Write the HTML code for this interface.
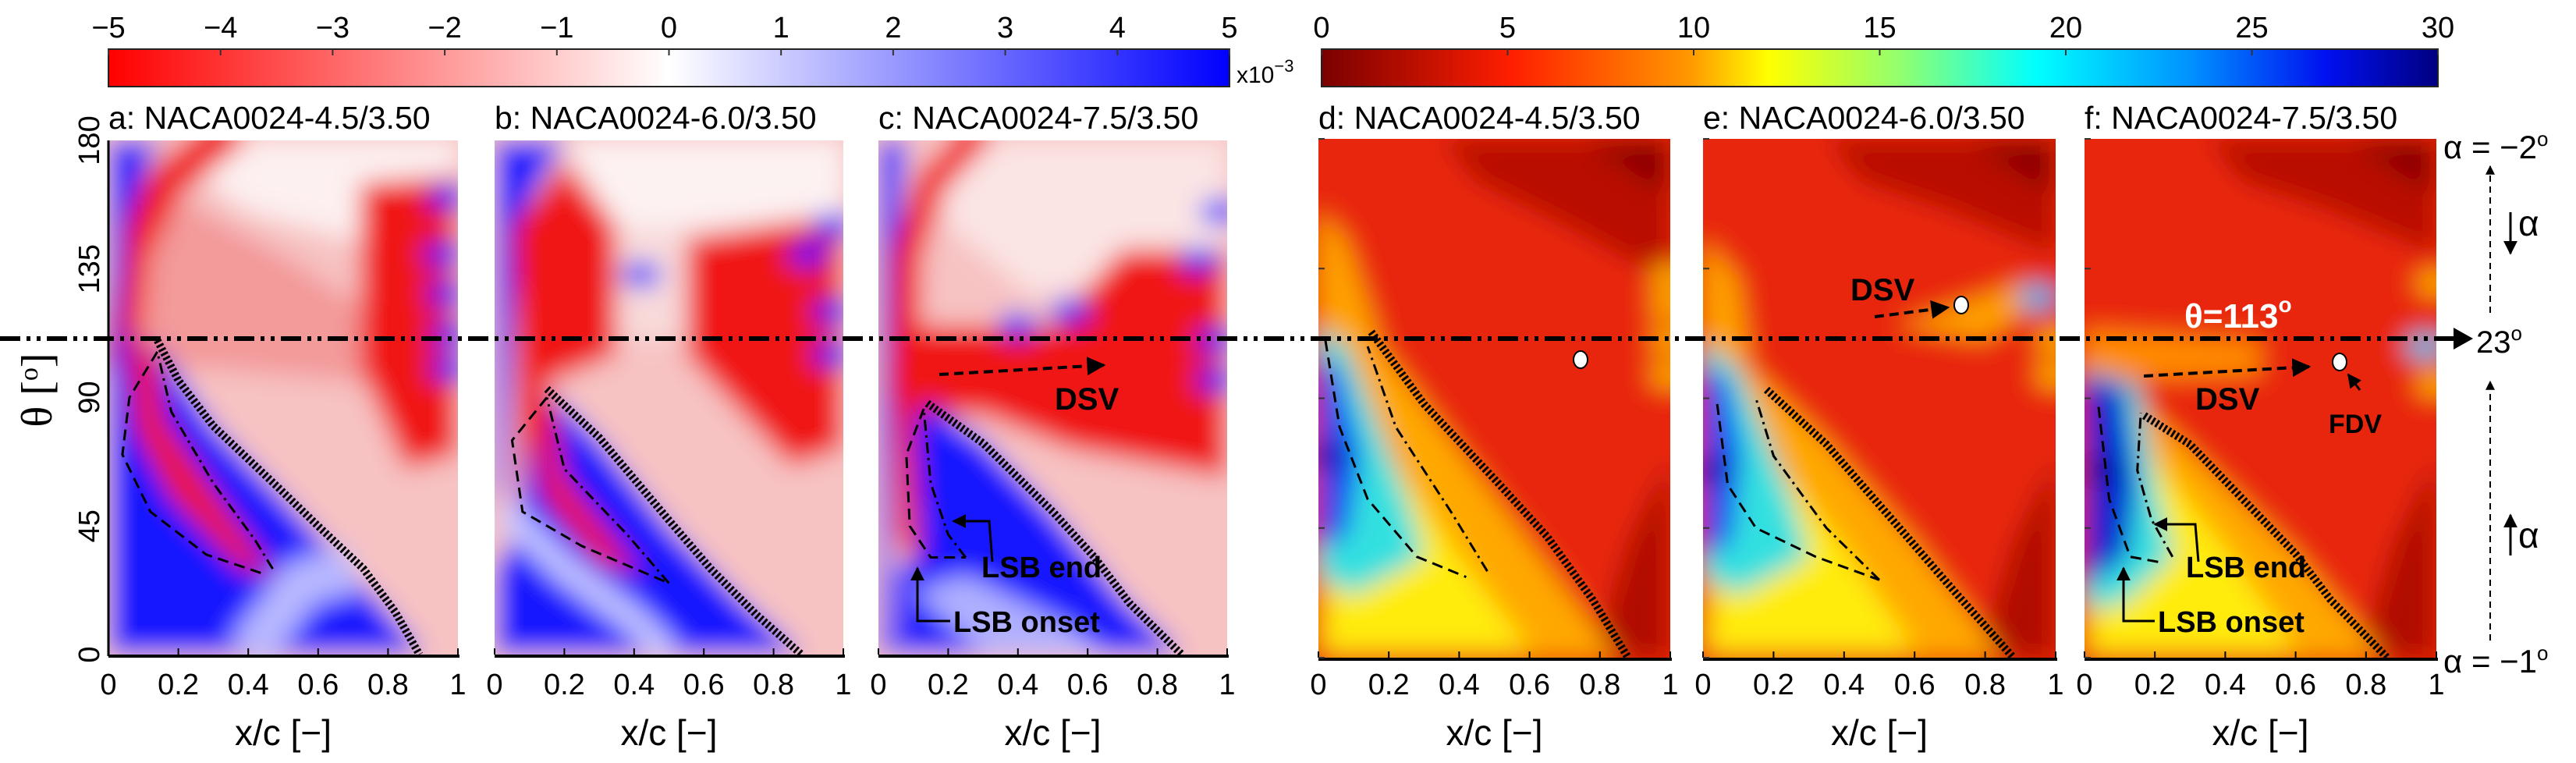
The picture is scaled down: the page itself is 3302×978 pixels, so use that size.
<!DOCTYPE html>
<html><head><meta charset="utf-8"><style>
body{margin:0;background:#fff;}
svg{display:block;font-family:"Liberation Sans",Arial,sans-serif;}
</style></head><body>
<svg id="fig" width="3302" height="978" viewBox="0 0 3302 978" xmlns="http://www.w3.org/2000/svg">
<defs>
<filter id="bl" x="-20%" y="-20%" width="140%" height="140%"><feGaussianBlur stdDeviation="16"/></filter>
<linearGradient id="gBR" x1="0" x2="1" y1="0" y2="0">
<stop offset="0" stop-color="#ff0000"/><stop offset="0.5" stop-color="#ffffff"/><stop offset="1" stop-color="#0000ff"/></linearGradient>
<linearGradient id="gJet" x1="0" x2="1" y1="0" y2="0">
<stop offset="0" stop-color="#7a0000"/><stop offset="0.17" stop-color="#ff1e00"/><stop offset="0.33" stop-color="#ff9800"/>
<stop offset="0.4" stop-color="#ffff00"/><stop offset="0.52" stop-color="#90ff70"/><stop offset="0.64" stop-color="#00ffff"/>
<stop offset="0.78" stop-color="#0090ff"/><stop offset="0.9" stop-color="#0010f0"/><stop offset="1" stop-color="#000080"/></linearGradient>
<marker id="ah" viewBox="0 0 10 10" refX="9" refY="5" markerWidth="6" markerHeight="6" orient="auto"><path d="M0,0L10,5L0,10z" fill="#000"/></marker>
</defs>
</svg>
<script>
const xTicks=[0,0.2,0.4,0.6,0.8,1];
const xTickLabels=["0","0.2","0.4","0.6","0.8","1"];
const yTicks=[0,45,90,135,180];
const cb1Ticks=[-5,-4,-3,-2,-1,0,1,2,3,4,5];
const cb2Ticks=[0,5,10,15,20,25,30];
const panelTitles=["a: NACA0024-4.5/3.50","b: NACA0024-6.0/3.50","c: NACA0024-7.5/3.50","d: NACA0024-4.5/3.50","e: NACA0024-6.0/3.50","f: NACA0024-7.5/3.50"];
const dottedA=[[0.14,110],[0.2,96],[0.3,80],[0.49,58],[0.6,45],[0.73,30],[0.82,15],[0.89,0]];
const dottedB=[[0.15,93],[0.3,76],[0.5,47],[0.62,30],[0.75,14],[0.88,0]];
const dottedC=[[0.14,88],[0.3,74],[0.5,50],[0.62,34],[0.72,18],[0.87,0]];
const dottedD=[[0.15,113],[0.3,88],[0.5,62],[0.65,42],[0.78,20],[0.88,0]];
const dottedE=[[0.18,93],[0.35,74],[0.55,46],[0.72,22],[0.88,0]];
const dottedF=[[0.17,84],[0.3,74],[0.45,55],[0.6,36],[0.7,20],[0.86,0]];
const dashA=[[0.14,106],[0.06,90],[0.04,70],[0.12,50],[0.28,35],[0.45,28]];
const dashdotA=[[0.47,30],[0.42,40],[0.3,60],[0.18,85],[0.14,106]];
const dashB=[[0.15,90],[0.05,75],[0.08,50],[0.25,38],[0.5,25]];
const dashdotB=[[0.5,25],[0.38,42],[0.2,65],[0.15,90]];
const dashC=[[0.13,86],[0.08,70],[0.09,45],[0.15,34],[0.25,34]];
const dashdotC=[[0.25,34],[0.2,42],[0.15,60],[0.13,86]];
const dashD=[[0.02,110],[0.06,80],[0.14,55],[0.28,35],[0.42,28]];
const dashdotD=[[0.48,30],[0.38,50],[0.22,80],[0.14,108]];
const dashE=[[0.04,88],[0.07,60],[0.15,45],[0.32,35],[0.5,27]];
const dashdotE=[[0.5,27],[0.35,45],[0.2,70],[0.15,90]];
const dashF=[[0.04,87],[0.07,55],[0.13,35],[0.22,33]];
const dashdotF=[[0.25,35],[0.19,48],[0.15,65],[0.16,85]];

const svg=document.getElementById('fig');
const NS="http://www.w3.org/2000/svg";
function el(tag,attrs,parent){const e=document.createElementNS(NS,tag);for(const k in attrs)e.setAttribute(k,attrs[k]);(parent||svg).appendChild(e);return e;}
const panels=[
 {x0:139,x1:587,y0:180,y1:839},{x0:634,x1:1081,y0:180,y1:839},{x0:1126,x1:1573,y0:180,y1:839},
 {x0:1690,x1:2141,y0:178,y1:843},{x0:2183,x1:2635,y0:178,y1:843},{x0:2672,x1:3123,y0:178,y1:843}];
function X(p,v){return p.x0+v*(p.x1-p.x0);}
function Y(p,t){return p.y1-t/180*(p.y1-p.y0);}
function pts(p,a){return a.map(q=>X(p,q[0]).toFixed(1)+","+Y(p,q[1]).toFixed(1)).join(" ");}

function colorbar(x0,x1,vals,grad,name,lo,hi){
 const r=el('rect',{x:x0,y:63,width:x1-x0,height:48,fill:'url(#'+grad+')',stroke:'#222','stroke-width':2});
 
 
 vals.forEach(v=>{const xx=x0+(v-lo)/(hi-lo)*(x1-x0);
  el('line',{x1:xx,x2:xx,y1:63,y2:71,stroke:'#333','stroke-width':2});
  const t=el('text',{x:xx,y:48,'font-size':38,'text-anchor':'middle',fill:'#000'});t.textContent=(v<0?'\u2212'+(-v):String(v));
  
  
 });
}
colorbar(139,1576,cb1Ticks,'gBR','colorbar-skin-friction',-5,5);
colorbar(1694,3125,cb2Ticks,'gJet','colorbar-magnitude',0,30);
{const t=el('text',{x:1585,y:106,'font-size':30});t.innerHTML='x10<tspan dy="-14" font-size="22">\u22123</tspan>';
}

const R='#f01818', B='#1212ff';
const shapes=[
 [ // a
  ['rect','#f7c2c2'],
  ['poly',[[0.2,180],[1,180],[1,150],[0.7,145],[0.4,155],[0.25,168]],'#fdf0f0'],
  ['poly',[[0.04,100],[0.04,150],[0.2,160],[0.5,140],[0.75,120],[0.75,95],[0.3,100]],'#f39a9a'],
  ['line',[[0.03,100],[0.06,140],[0.16,165],[0.36,185]],R,50],
  ['poly',[[0.0,180],[0.14,180],[0.05,150],[0.03,110],[0,100]],B],
  ['poly',[[0.72,165],[1,168],[1,70],[0.85,65],[0.72,100]],R],
  ['ell',[[0.97,160],[0.96,140],[0.97,126],[0.98,112],[0.98,100]],B],
  ['poly',[[0,0],[0.9,0],[0.8,15],[0.5,55],[0.3,80],[0.14,108],[0.05,112],[0,100]],B],
  ['line',[[0.4,0],[0.55,25],[0.7,30]],'#b8b8ff',60],
  ['poly',[[0.05,110],[0.13,108],[0.16,82],[0.3,57],[0.47,28],[0.38,30],[0.18,55],[0.08,78]],R]
 ],
 [ // b
  ['rect','#f7c2c2'],
  ['poly',[[0.2,180],[1,180],[1,155],[0.6,150],[0.35,150]],'#fdf2f2'],
  ['poly',[[0.35,150],[0.55,150],[0.55,110],[0.35,110]],'#f8dada'],
  ['poly',[[0,180],[0.2,180],[0.06,150],[0.03,60],[0,50]],B],
  ['poly',[[0.05,150],[0.2,172],[0.35,150],[0.35,105],[0.15,95],[0.12,80],[0.22,40],[0.07,55]],R],
  ['poly',[[0.55,145],[0.9,152],[1,145],[1,72],[0.85,66],[0.55,105]],R],
  ['ell',[[0.9,140],[0.97,150],[0.97,120],[0.97,105],[0.42,133]],B],
  ['poly',[[0,0],[0.88,0],[0.7,20],[0.5,45],[0.3,75],[0.15,93],[0.12,80],[0.05,40],[0,30]],B],
  ['line',[[0.03,50],[0.2,30],[0.4,12],[0.5,0]],'#c8c8ff',34],
  ['poly',[[0.11,88],[0.16,92],[0.2,62],[0.42,28],[0.3,32],[0.14,55]],R]
 ],
 [ // c
  ['rect','#f7c2c2'],
  ['poly',[[0.15,180],[1,180],[1,140],[0.45,125],[0.2,150]],'#fbe4e4'],
  ['poly',[[0,180],[0.08,180],[0.04,120],[0.03,0],[0,0]],B],
  ['line',[[0.07,90],[0.08,140],[0.15,165],[0.3,185]],R,40],
  ['poly',[[0.05,115],[0.5,115],[0.7,142],[1,142],[1,62],[0.55,72],[0.3,84],[0.05,84]],R],
  ['poly',[[0.03,120],[0.1,118],[0.12,80],[0.11,45],[0.24,32],[0.15,26],[0.05,40],[0.04,80]],R],
  ['ell',[[0.97,110],[0.92,138],[0.98,155],[0.97,96],[0.4,115],[0.55,120]],B],
  ['poly',[[0.04,0],[0.87,0],[0.7,20],[0.5,50],[0.3,75],[0.14,88],[0.1,80],[0.12,35],[0.05,30]],B],
  ['poly',[[0.1,22],[0.25,28],[0.55,10],[0.65,0],[0.3,0]],'#b0b0ff']
 ],
 [ // d
  ['rect','#e82808'],
  ['poly',[[0.35,180],[1,180],[1,130],[0.7,150],[0.45,165]],'#b80c00'],
  ['poly',[[0.75,180],[1,180],[1,160]],'#8a0000'],
  ['poly',[[0.78,0],[1,0],[1,70],[0.88,40]],'#b00800'],
  ['poly',[[0,155],[0.08,145],[0.17,112],[0,100]],'#ffa000'],
  ['ell',[[1,132],[1,122],[1,110],[1,98]],'#ffb000'],
  ['poly',[[0,0],[0.85,0],[0.6,40],[0.35,80],[0.15,112],[0.05,118],[0,110]],'#ffa800'],
  ['poly',[[0.02,3],[0.6,3],[0.4,35],[0.2,70],[0.08,100]],'#ffec10'],
  ['poly',[[0,115],[0.08,108],[0.25,55],[0.3,35],[0.1,22],[0,28]],'#30e0e0'],
  ['poly',[[0,105],[0.06,100],[0.12,70],[0.08,42],[0,38]],'#1040f0'],
  ['ell',[[0.02,70]],'#0010b0']
 ],
 [ // e
  ['rect','#e82808'],
  ['poly',[[0.35,180],[1,180],[1,140],[0.7,155],[0.45,165]],'#b80c00'],
  ['poly',[[0.75,180],[1,180],[1,160]],'#8a0000'],
  ['poly',[[0.78,0],[1,0],[1,70],[0.88,40]],'#b00800'],
  ['poly',[[0,145],[0.1,132],[0.13,105],[0,95]],'#ffa000'],
  ['poly',[[0.55,115],[0.9,130],[1,128],[0.8,110]],'#ffa000'],
  ['ell',[[0.95,125]],'#10b0f0'],
  ['ell',[[1,110],[1,98]],'#ffb000'],
  ['poly',[[0,0],[0.85,0],[0.6,40],[0.35,75],[0.18,95],[0.05,110],[0,105]],'#ffa800'],
  ['poly',[[0.02,3],[0.6,3],[0.4,38],[0.2,68],[0.1,88]],'#ffec10'],
  ['poly',[[0,110],[0.1,100],[0.25,55],[0.3,35],[0.1,22],[0,28]],'#30e0e0'],
  ['poly',[[0,102],[0.07,96],[0.11,70],[0.08,40],[0,35]],'#1040f0'],
  ['ell',[[0.02,65]],'#0010b0']
 ],
 [ // f
  ['rect','#e82808'],
  ['poly',[[0.35,180],[1,180],[1,140],[0.7,155],[0.45,165]],'#b80c00'],
  ['poly',[[0.75,180],[1,180],[1,160]],'#8a0000'],
  ['poly',[[0.78,0],[1,0],[1,70],[0.88,40]],'#b00800'],
  ['poly',[[0,114],[0.5,110],[0.5,98],[0,96]],'#ff8a00'],
  ['ell',[[0.97,108]],'#10c0f0'],
  ['ell',[[1,130],[1,95]],'#ffb000'],
  ['poly',[[0,0],[0.85,0],[0.6,36],[0.4,60],[0.18,86],[0.05,100],[0,100]],'#ffa800'],
  ['poly',[[0.02,3],[0.6,3],[0.4,38],[0.2,68],[0.1,85]],'#ffec10'],
  ['poly',[[0,100],[0.15,95],[0.2,60],[0.25,35],[0.1,18],[0,18]],'#30e0e0'],
  ['poly',[[0,98],[0.11,95],[0.15,60],[0.12,35],[0,25]],'#0020d0'],
  ['ell',[[0.04,65]],'#000a9a']
 ]
];
const dotted=[dottedA,dottedB,dottedC,dottedD,dottedE,dottedF];
const dashes=[dashA,dashB,dashC,dashD,dashE,dashF];
const dashdots=[dashdotA,dashdotB,dashdotC,dashdotD,dashdotE,dashdotF];
const letters=['a','b','c','d','e','f'];

panels.forEach((p,i)=>{
 const cp=el('clipPath',{id:'cp'+i},svg.querySelector('defs'));
 el('rect',{x:p.x0,y:p.y0,width:p.x1-p.x0,height:p.y1-p.y0},cp);
 const g=el('g',{'clip-path':'url(#cp'+i+')'});
 
 
 const f=el('g',{filter:'url(#bl)'},g);
 shapes[i].forEach(s=>{
  if(s[0]==='rect') el('rect',{x:p.x0-60,y:p.y0-60,width:p.x1-p.x0+120,height:p.y1-p.y0+120,fill:s[1]},f);
  else if(s[0]==='poly') el('polygon',{points:pts(p,s[1]),fill:s[2]},f);
  else if(s[0]==='line') el('polyline',{points:pts(p,s[1]),fill:'none',stroke:s[2],'stroke-width':s[3],'stroke-linejoin':'round'},f);
  else if(s[0]==='ell') s[1].forEach(c=>el('ellipse',{cx:X(p,c[0]),cy:Y(p,c[1]),rx:26,ry:16,fill:s[2]},f));
 });
 const d=el('polyline',{points:pts(p,dotted[i]),fill:'none',stroke:'#000','stroke-width':10,'stroke-dasharray':'3 3'},g);
 
 
 const ds=el('polyline',{points:pts(p,dashes[i]),fill:'none',stroke:'#000','stroke-width':3,'stroke-dasharray':'14 8'},g);
 
 
 const dd=el('polyline',{points:pts(p,dashdots[i]),fill:'none',stroke:'#000','stroke-width':3,'stroke-dasharray':'14 6 3 6'},g);
 
 
 el('line',{x1:p.x0,x2:p.x1+2,y1:p.y1+2,y2:p.y1+2,stroke:'#000','stroke-width':4});
 xTicks.forEach((v,k)=>{const xx=X(p,v);
  el('line',{x1:xx,x2:xx,y1:p.y1,y2:p.y1-8,stroke:'#000','stroke-width':2});
  const t=el('text',{x:xx,y:890,'font-size':38,'text-anchor':'middle'});t.textContent=xTickLabels[k];
  
  
 });
 const xl=el('text',{x:(p.x0+p.x1)/2,y:955,'font-size':46,'text-anchor':'middle'});xl.textContent='x/c [\u2212]';
 
 
 const tt=el('text',{x:p.x0,y:165,'font-size':41});tt.textContent=panelTitles[i];
 
 
 if(i>=3){yTicks.forEach(v=>{const yy=Y(p,v);el('line',{x1:p.x0,x2:p.x0+8,y1:yy,y2:yy,stroke:'#333','stroke-width':2});});}
});
const pa=panels[0];
el('line',{x1:pa.x0,x2:pa.x0,y1:pa.y0,y2:pa.y1+2,stroke:'#000','stroke-width':3});
yTicks.forEach(v=>{const yy=Y(pa,v);
 const t=el('text',{x:0,y:0,'font-size':38,'text-anchor':'middle',transform:'translate(127,'+yy+') rotate(-90)'});t.textContent=String(v);
 
 
});
{const t=el('text',{x:0,y:0,'font-size':56,'text-anchor':'middle',transform:'translate(66,500) rotate(-90)','font-family':'Liberation Serif,serif'});
t.innerHTML='θ [<tspan dy="-18" font-size="34">o</tspan><tspan dy="18">]</tspan>';
}

{const l=el('line',{x1:0,x2:3150,y1:434,y2:434,stroke:'#000','stroke-width':6,'stroke-dasharray':'26 8 5 8 5 8'});

el('path',{d:'M3145,420L3170,434L3145,448z',fill:'#000'});}
function txt(x,y,s,size,name,extra){const t=el('text',Object.assign({x:x,y:y,'font-size':size,'font-weight':'bold'},extra||{}));t.innerHTML=s;
 return t;}
txt(3174,452,'23<tspan dy="-16" font-size="26">o</tspan>',40,'alpha-23-label',{'font-weight':'normal'});
txt(3132,203,'α = −2<tspan dy="-16" font-size="26">o</tspan>',42,'alpha-max-label',{'font-weight':'normal'});
txt(3132,862,'α = −1<tspan dy="-16" font-size="26">o</tspan>',42,'alpha-min-label',{'font-weight':'normal'});
txt(3228,302,'α',46,'alpha-decrease-label',{'font-weight':'normal'});
txt(3228,702,'α',46,'alpha-increase-label',{'font-weight':'normal'});
el('line',{x1:3192,x2:3192,y1:401,y2:213,stroke:'#000','stroke-width':2,'stroke-dasharray':'8 6','marker-end':'url(#ah)'});
el('line',{x1:3192,x2:3192,y1:821,y2:489,stroke:'#000','stroke-width':2,'stroke-dasharray':'8 6','marker-end':'url(#ah)'});
el('line',{x1:3218,x2:3218,y1:272,y2:325,stroke:'#000','stroke-width':3,'marker-end':'url(#ah)'});
el('line',{x1:3218,x2:3218,y1:712,y2:660,stroke:'#000','stroke-width':3,'marker-end':'url(#ah)'});
txt(2800,420,'θ=113<tspan dy="-20" font-size="28">o</tspan>',44,'theta-113-label',{fill:'#fff'});
txt(1352,525,'DSV',40,'dsv-label-c');
txt(2372,385,'DSV',40,'dsv-label-e');
txt(2814,525,'DSV',40,'dsv-label-f');
txt(2985,555,'FDV',34,'fdv-label-f');
[[1204,480,1415,468],[2403,406,2497,394],[2748,482,2960,470]].forEach(a=>el('line',{x1:a[0],x2:a[2],y1:a[1],y2:a[3],stroke:'#000','stroke-width':4,'stroke-dasharray':'12 7','marker-end':'url(#ah)'}));
[[2026,461],[2514,391],[2999,464]].forEach(c=>{const e=el('ellipse',{cx:c[0],cy:c[1],rx:9,ry:11,fill:'#fff',stroke:'#000','stroke-width':2});
 });
el('polyline',{points:'3025,500 3010,480',fill:'none',stroke:'#000','stroke-width':3,'marker-end':'url(#ah)'});
txt(1258,740,'LSB end',38,'lsb-end-label-c');
txt(1222,810,'LSB onset',38,'lsb-onset-label-c');
txt(2802,740,'LSB end',38,'lsb-end-label-f');
txt(2766,810,'LSB onset',38,'lsb-onset-label-f');
el('polyline',{points:'1272,720 1268,668 1222,668',fill:'none',stroke:'#000','stroke-width':3,'marker-end':'url(#ah)'});
el('polyline',{points:'1218,796 1176,796 1176,728',fill:'none',stroke:'#000','stroke-width':3,'marker-end':'url(#ah)'});
el('polyline',{points:'2818,720 2814,672 2762,672',fill:'none',stroke:'#000','stroke-width':3,'marker-end':'url(#ah)'});
el('polyline',{points:'2762,796 2722,796 2722,728',fill:'none',stroke:'#000','stroke-width':3,'marker-end':'url(#ah)'});
</script>
</body></html>
